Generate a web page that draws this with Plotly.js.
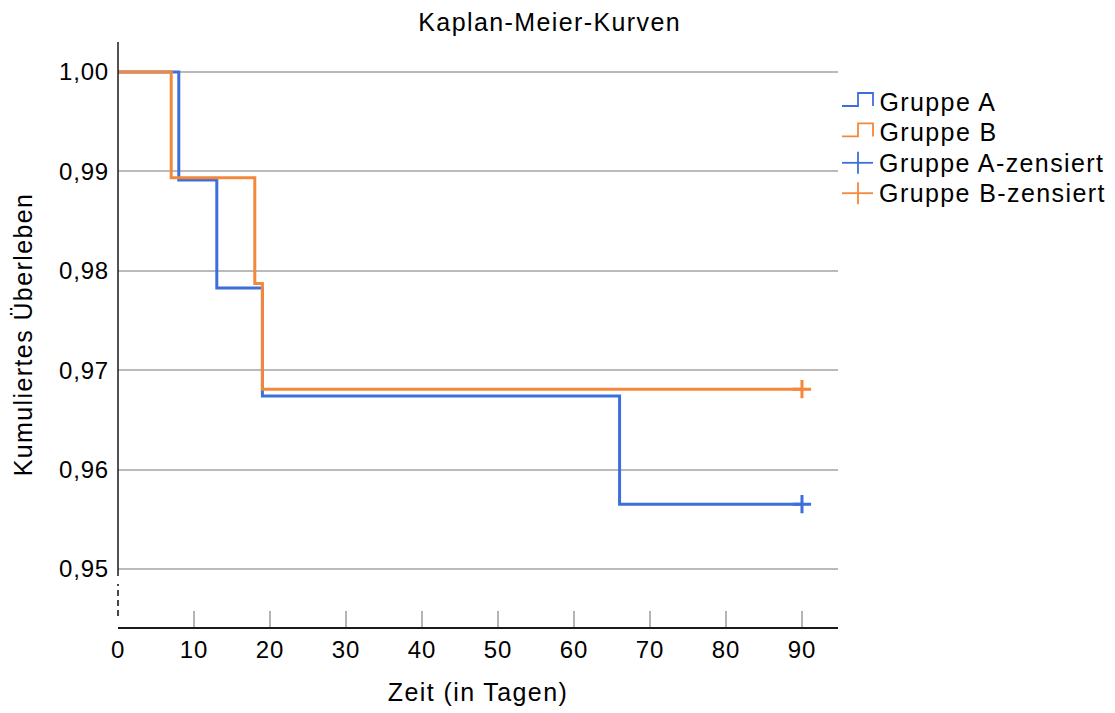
<!DOCTYPE html>
<html>
<head>
<meta charset="utf-8">
<script src="https://cdn.plot.ly/plotly-3.0.1.min.js"></script>
<style>
  html, body { margin: 0; padding: 0; background: #fff; }
  #chart { width: 1115px; height: 713px; }
  #chart text { letter-spacing: 1.4px; }
  #chart .xtick text, #chart .ytick text { letter-spacing: 0.8px; }
</style>
</head>
<body>
<div id="chart"></div>
<script>
// Kaplan-Meier estimates per group (time in days, cumulative survival)
const timeA = [0, 8, 13, 19, 66, 90];
const survA = [1.0, 0.98913, 0.97826, 0.96739, 0.95652, 0.95652];
const timeB = [0, 7, 18, 19, 90];
const survB = [1.0, 0.98936, 0.97872, 0.96809, 0.96809];

// Censored observations
const censTimeA = [90];
const censSurvA = [0.95652];
const censTimeB = [90];
const censSurvB = [0.96809];

const yTicks = [0.95, 0.96, 0.97, 0.98, 0.99, 1.00];
const xTicks = [0, 10, 20, 30, 40, 50, 60, 70, 80, 90];

const legendNames = ['Gruppe A', 'Gruppe B', 'Gruppe A-zensiert', 'Gruppe B-zensiert'];
const legendKinds = ['step', 'step', 'cross', 'cross'];

const blue = '#3c6fd9';
const orange = '#f4883a';
const legendColors = [blue, orange, blue, orange];
const FONT = 'Liberation Sans, Arial, sans-serif';
const LS = 1.4; // letter spacing used for labels (px)

// plot area in pixels
const W = 1115, H = 713;
const M = { l: 118, r: 277, t: 42, b: 86 };
const PW = W - M.l - M.r, PH = H - M.t - M.b;
const px = v => (v - M.l) / PW;      // pixel x -> paper x
const py = v => (H - M.b - v) / PH;  // pixel y -> paper y

const traces = [
  {
    x: timeA, y: survA, name: legendNames[0], mode: 'lines',
    line: { color: blue, width: 3, shape: 'hv' }
  },
  {
    x: timeB, y: survB, name: legendNames[1], mode: 'lines',
    line: { color: orange, width: 3, shape: 'hv' }
  },
  {
    x: censTimeA, y: censSurvA, name: legendNames[2], mode: 'markers',
    marker: { symbol: 'cross-thin-open', size: 13, color: blue, line: { color: blue, width: 3 } }
  },
  {
    x: censTimeB, y: censSurvB, name: legendNames[3], mode: 'markers',
    marker: { symbol: 'cross-thin-open', size: 13, color: orange, line: { color: orange, width: 3 } }
  }
];

const shapes = [
  // vertical axis line with a dashed break near the bottom
  { type: 'line', xref: 'paper', yref: 'paper', x0: 0, x1: 0, y0: py(576), y1: 1,
    line: { color: '#1a1a1a', width: 1.5 } },
  { type: 'line', xref: 'paper', yref: 'paper', x0: 0, x1: 0, y0: py(616), y1: py(584),
    line: { color: '#1a1a1a', width: 1.6, dash: '6px,4px' } }
];

// legend beside the plot: step icon for curves, cross for censored points
const annotations = [];
const legTop = 102, legStep = 30.4;
const iconL = 842, iconM = 858, iconR = 873, textX = 878;
legendNames.forEach((name, i) => {
  const cy = legTop + i * legStep;
  const c = legendColors[i];
  if (legendKinds[i] === 'step') {
    const b = py(cy + 4), t = py(cy - 9);
    shapes.push({
      type: 'path', xref: 'paper', yref: 'paper',
      path: `M ${px(iconL)} ${b} L ${px(iconM)} ${b} L ${px(iconM)} ${t} L ${px(iconR)} ${t} L ${px(iconR)} ${b}`,
      line: { color: c, width: 1.8 }
    });
  } else {
    shapes.push({ type: 'line', xref: 'paper', yref: 'paper',
      x0: px(iconL), x1: px(iconR), y0: py(cy), y1: py(cy), line: { color: c, width: 1.8 } });
    shapes.push({ type: 'line', xref: 'paper', yref: 'paper',
      x0: px(iconM), x1: px(iconM), y0: py(cy - 11), y1: py(cy + 11), line: { color: c, width: 1.8 } });
  }
  // centred text grows by the letter spacing on both sides, so shift it right by half
  annotations.push({
    text: name, xref: 'paper', yref: 'paper', x: px(textX + name.length * LS / 2), y: py(cy),
    xanchor: 'left', yanchor: 'middle', showarrow: false, borderpad: 0,
    font: { family: FONT, size: 25, color: '#000' }
  });
});

const layout = {
  width: W, height: H,
  margin: M,
  paper_bgcolor: '#ffffff', plot_bgcolor: '#ffffff',
  font: { family: FONT, size: 24, color: '#000' },
  title: {
    text: 'Kaplan-Meier-Kurven',
    font: { family: FONT, size: 25, color: '#000' },
    xref: 'container', x: 0.493, xanchor: 'center',
    yref: 'container', y: 0.969, yanchor: 'middle'
  },
  separators: ',.',
  showlegend: false,
  xaxis: {
    range: [0, 94.74],
    tickvals: xTicks,
    ticktext: xTicks.map(String),
    ticks: 'inside', ticklen: 16, tickwidth: 1.5, tickcolor: '#b4b4b4',
    ticklabelstandoff: 0,
    showline: true, linecolor: '#1a1a1a', linewidth: 2,
    showgrid: false, zeroline: false,
    tickfont: { family: FONT, size: 24, color: '#000' },
    title: { text: 'Zeit (in Tagen)', font: { family: FONT, size: 25, color: '#000' }, standoff: 22 }
  },
  yaxis: {
    range: [0.94416, 1.00302],
    tickvals: yTicks,
    tickformat: '.2f',
    ticks: '', ticklabelstandoff: 8,
    showline: false,
    showgrid: true, gridcolor: '#bababa', gridwidth: 1.6,
    zeroline: false,
    tickfont: { family: FONT, size: 24, color: '#000' },
    title: { text: 'Kumuliertes Überleben', font: { family: FONT, size: 25, color: '#000' }, standoff: 22 }
  },
  shapes: shapes,
  annotations: annotations
};

Plotly.newPlot('chart', traces, layout, { displayModeBar: false, responsive: false });
</script>
</body>
</html>
